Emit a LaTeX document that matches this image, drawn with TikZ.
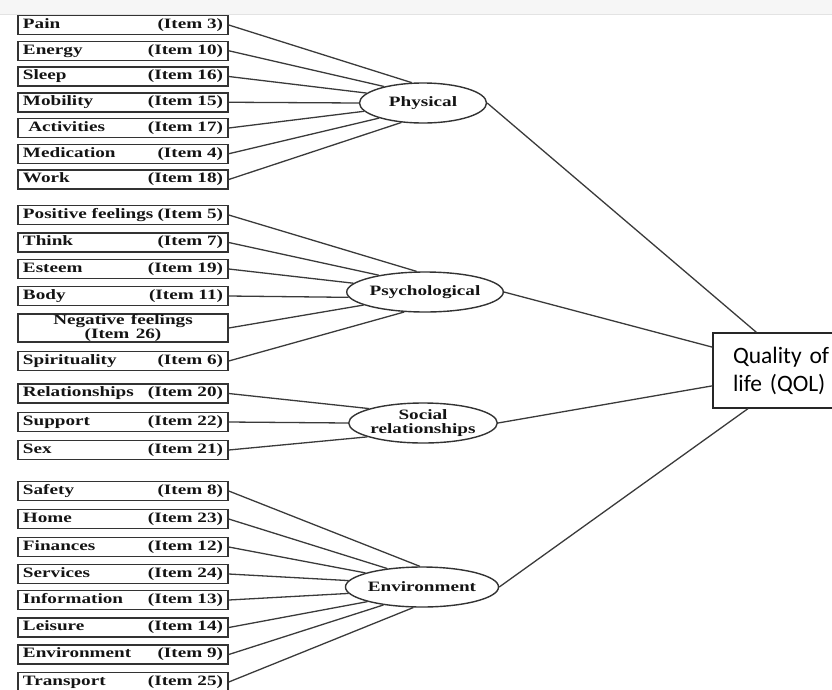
\documentclass[tikz,border=0pt]{standalone}
\usepackage{fontspec}
\setmainfont{Liberation Serif}
\newfontfamily\calfont{Carlito}
\usetikzlibrary{shapes.geometric}
\newcommand{\wdtxt}[1]{\scalebox{1.34}[1]{#1}}
\newcommand{\itemfnt}{\fontsize{14.3pt}{13pt}\selectfont\bfseries}
\newcommand{\itm}[2]{\makebox[200pt]{\wdtxt{#1}\hfill\wdtxt{#2}}}
\definecolor{boxc}{HTML}{333333}
\definecolor{linec}{HTML}{3A3A3A}
\begin{document}
\begin{tikzpicture}[x=1pt,y=-1pt,
  itembox/.style={draw=boxc, line width=1.5pt, minimum height=19pt, inner xsep=5pt, inner ysep=0pt, font=\itemfnt, text=black!92},
  facbox/.style={ellipse, draw=boxc, line width=1.4pt, minimum width=127pt, minimum height=40pt, inner sep=0pt, font=\itemfnt, align=center, text=black!92},
  conn/.style={draw=linec, line width=1.3pt}]
\useasboundingbox (0,0) rectangle (832,689);
\fill[gray!7] (0,0) rectangle (832,14);
\draw[gray!22, line width=0.8pt] (0,14) -- (832,14);

% Physical
\node[itembox] (pain) at (123,25) {\itm{Pain}{(Item 3)}};
\node[itembox] (energy) at (123,50.75) {\itm{Energy}{(Item 10)}};
\node[itembox] (sleep) at (123,76.5) {\itm{Sleep}{(Item 16)}};
\node[itembox] (mobility) at (123,102.25) {\itm{Mobility}{(Item 15)}};
\node[itembox] (activities) at (123,128) {\itm{\hspace{4pt}Activities}{(Item 17)}};
\node[itembox] (medication) at (123,153.75) {\itm{Medication}{(Item 4)}};
\node[itembox] (work) at (123,179.5) {\itm{Work}{(Item 18)}};

% Psychological
\node[itembox] (positive) at (123,215) {\itm{Positive feelings}{(Item 5)}};
\node[itembox] (think) at (123,242.5) {\itm{Think}{(Item 7)}};
\node[itembox] (esteem) at (123,269) {\itm{Esteem}{(Item 19)}};
\node[itembox] (body) at (123,296) {\itm{Body}{(Item 11)}};
\node[itembox, minimum height=28pt, text width=200pt, align=center, font=\fontsize{14.3pt}{13.5pt}\selectfont\bfseries] (negative) at (123,328) {\wdtxt{Negative feelings}\\\wdtxt{(Item 26)}};
\node[itembox] (spirit) at (123,361) {\itm{Spirituality}{(Item 6)}};

% Social
\node[itembox] (relation) at (123,393.5) {\itm{Relationships}{(Item 20)}};
\node[itembox] (support) at (123,422) {\itm{Support}{(Item 22)}};
\node[itembox] (sex) at (123,450) {\itm{Sex}{(Item 21)}};

% Environment
\node[itembox] (safety) at (123,491) {\itm{Safety}{(Item 8)}};
\node[itembox] (home) at (123,519) {\itm{Home}{(Item 23)}};
\node[itembox] (finances) at (123,547) {\itm{Finances}{(Item 12)}};
\node[itembox] (services) at (123,574) {\itm{Services}{(Item 24)}};
\node[itembox] (information) at (123,600) {\itm{Information}{(Item 13)}};
\node[itembox] (leisure) at (123,627.5) {\itm{Leisure}{(Item 14)}};
\node[itembox] (environ) at (123,654.5) {\itm{Environment}{(Item 9)}};
\node[itembox] (transport) at (123,682) {\itm{Transport}{(Item 25)}};

% Factors
\node[facbox] (phys) at (423,103) {\wdtxt{Physical}};
\node[facbox] (psych) at (425,292) {\wdtxt{Psychological}};
\node[facbox, font=\fontsize{14.3pt}{13.8pt}\selectfont\bfseries] (soc) at (423,423) {\wdtxt{Social}\\\wdtxt{relationships}};
\node[facbox] (env) at (422,587) {\wdtxt{Environment}};

% QOL
\node[draw=black!85, line width=1.4pt, minimum width=176pt, minimum height=75pt, text width=136pt, inner xsep=20pt, inner ysep=0pt, align=left, font=\calfont\fontsize{23.5pt}{28pt}\selectfont] (qol) at (801,370.5) {Quality of\\life (QOL)};

% Connectors: items to factors
\draw[conn] (pain.east) -- (phys.119);
\draw[conn] (energy.east) -- (phys.157);
\draw[conn] (sleep.east) -- (phys.170);
\draw[conn] (mobility.east) -- (phys.180);
\draw[conn] (activities.east) -- (phys.188.5);
\draw[conn] (medication.east) -- (phys.199);
\draw[conn] (work.east) -- (phys.222);

\draw[conn] (positive.east) -- (psych.112);
\draw[conn] (think.east) -- (psych.160);
\draw[conn] (esteem.east) -- (psych.173);
\draw[conn] (body.east) -- (psych.184);
\draw[conn] (negative.east) -- (psych.192);
\draw[conn] (spirit.east) -- (psych.224);

\draw[conn] (relation.east) -- (soc.165);
\draw[conn] (support.east) -- (soc.180);
\draw[conn] (sex.east) -- (soc.194);

\draw[conn] (safety.east) -- (env.96);
\draw[conn] (home.east) -- (env.152);
\draw[conn] (finances.east) -- (env.166);
\draw[conn] (services.east) -- (env.175);
\draw[conn] (information.east) -- (env.185);
\draw[conn] (leisure.east) -- (env.195);
\draw[conn] (environ.east) -- (env.205);
\draw[conn] (transport.east) -- (env.247);

% Factors to QOL
\draw[conn] (phys.east) -- (qol);
\draw[conn] (psych.east) -- (qol);
\draw[conn] (soc.east) -- (qol);
\draw[conn] (env.east) -- (qol);
\end{tikzpicture}
\end{document}
